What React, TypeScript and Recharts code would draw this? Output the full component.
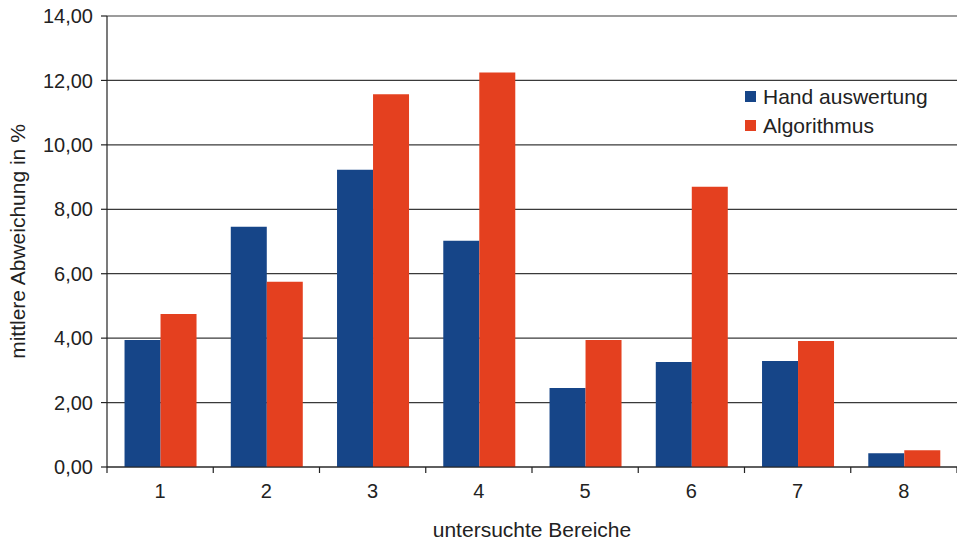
import React from 'react';
import { BarChart, Bar, XAxis, YAxis, CartesianGrid, Legend, Label } from 'recharts';

const categories = ['1', '2', '3', '4', '5', '6', '7', '8'];
const handValues = [3.94, 7.46, 9.23, 7.02, 2.45, 3.26, 3.29, 0.43];
const algoValues = [4.75, 5.75, 11.57, 12.25, 3.94, 8.7, 3.91, 0.52];
const yTicks = [0, 2, 4, 6, 8, 10, 12, 14];
const seriesNames = ['Hand auswertung', 'Algorithmus'];

const BLUE = '#164588';
const RED = '#e4401f';
const INK = '#222';
const FONT = '"Liberation Sans", Arial, Helvetica, sans-serif';

const W = 957;
const H = 540;
const Y_AXIS_W = 107;
const X_AXIS_H = 73;
const TOP = 16;
const BAND = (W - Y_AXIS_W) / categories.length;

const data = categories.map((c, i) => ({
  name: c,
  hand: handValues[i],
  algo: algoValues[i],
}));

const fmt = (v: number) => v.toFixed(2).replace('.', ',');

const XTick: React.FC<any> = ({ x, y, payload, index }) => {
  const left = x - BAND / 2;
  return (
    <g>
      <line x1={left} y1={y} x2={left} y2={y + 6} stroke={INK} strokeWidth={1.2} />
      {index === categories.length - 1 && (
        <line x1={x + BAND / 2} y1={y} x2={x + BAND / 2} y2={y + 6} stroke={INK} strokeWidth={1.2} />
      )}
      <text x={x} y={y + 31} textAnchor="middle" fontSize={20} fill={INK} fontFamily={FONT}>
        {payload.value}
      </text>
    </g>
  );
};

const LegendBox: React.FC<any> = () => (
  <div style={{ fontFamily: FONT, fontSize: 21, color: INK }}>
    {seriesNames.map((n, i) => (
      <div key={n} style={{ display: 'flex', alignItems: 'center', height: 29 }}>
        <span style={{ width: 11, height: 11, background: i === 0 ? BLUE : RED, marginRight: 7, display: 'inline-block' }} />
        <span>{n}</span>
      </div>
    ))}
  </div>
);

const App: React.FC = () => {
  return (
    <div style={{ position: 'absolute', left: 0, top: 0, width: W, height: H, background: '#fff' }}>
      <BarChart
        width={W}
        height={H}
        data={data}
        margin={{ top: TOP, right: 0, left: 0, bottom: 0 }}
        barCategoryGap="16.5%"
        barGap={0}
      >
        <CartesianGrid vertical={false} stroke="#3a3a3a" strokeWidth={1.2} />
        <XAxis
          dataKey="name"
          height={X_AXIS_H}
          tickLine={false}
          tickSize={0}
          tickMargin={0}
          axisLine={{ stroke: INK, strokeWidth: 1.2 }}
          tick={<XTick />}
          interval={0}
        >
          <Label
            content={({ viewBox }: any) => (
              <text
                x={viewBox.x + viewBox.width / 2}
                y={viewBox.y + 70}
                textAnchor="middle"
                fontSize={21}
                fill={INK}
                fontFamily={FONT}
              >
                untersuchte Bereiche
              </text>
            )}
          />
        </XAxis>
        <YAxis
          width={Y_AXIS_W}
          domain={[0, 14]}
          ticks={yTicks}
          tickFormatter={fmt}
          tickSize={6}
          tickMargin={8}
          tickLine={{ stroke: INK, strokeWidth: 1.2 }}
          axisLine={{ stroke: INK, strokeWidth: 1.2 }}
          tick={{ fontSize: 20, fill: INK, fontFamily: FONT }}
          interval={0}
        >
          <Label
            content={({ viewBox }: any) => {
              const cx = 17;
              const cy = viewBox.y + viewBox.height / 2;
              return (
                <text
                  x={cx}
                  y={cy}
                  transform={`rotate(-90 ${cx} ${cy})`}
                  textAnchor="middle"
                  dominantBaseline="central"
                  fontSize={21}
                  fill={INK}
                  fontFamily={FONT}
                >
                  mittlere Abweichung in %
                </text>
              );
            }}
          />
        </YAxis>
        <Legend
          layout="vertical"
          align="center"
          verticalAlign="middle"
          content={<LegendBox />}
          wrapperStyle={{ position: 'absolute', left: 745, top: 82, width: 200 }}
        />
        <Bar dataKey="hand" name={seriesNames[0]} fill={BLUE} isAnimationActive={false} />
        <Bar dataKey="algo" name={seriesNames[1]} fill={RED} isAnimationActive={false} />
      </BarChart>
    </div>
  );
};

export default App;
